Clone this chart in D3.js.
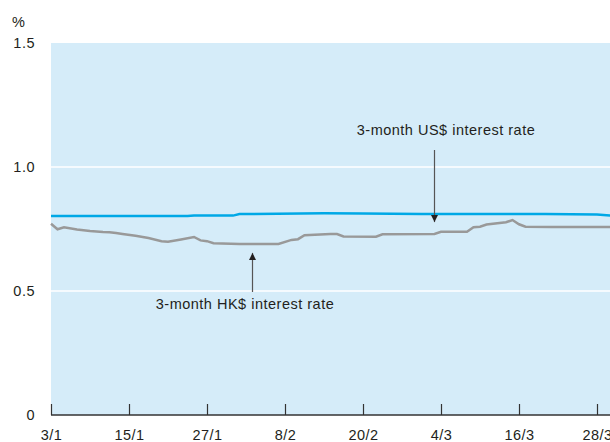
<!DOCTYPE html>
<html>
<head>
<meta charset="utf-8">
<script src="https://cdn.jsdelivr.net/npm/d3@7"></script>
<style>
  html, body { margin: 0; padding: 0; background: #fff; }
  svg text { font-family: "Liberation Sans", Arial, sans-serif; fill: #231f20; letter-spacing: 0.5px; }
</style>
</head>
<body>
<div id="chart"></div>
<script>
// Axis ticks
const xTickLabels = ['3/1', '15/1', '27/1', '8/2', '20/2', '4/3', '16/3', '28/3'];
const xTickDates = ['2006-01-03', '2006-01-15', '2006-01-27', '2006-02-08', '2006-02-20', '2006-03-04', '2006-03-16', '2006-03-28'];
const yTicks = [0, 0.5, 1.0, 1.5];

// 3-month US$ interest rate
const usDates = ['2006-01-03', '2006-01-24', '2006-01-25', '2006-01-31', '2006-02-01', '2006-02-14', '2006-02-20', '2006-03-01', '2006-03-20', '2006-03-28', '2006-03-31'];
const usValues = [0.802, 0.802, 0.804, 0.804, 0.810, 0.814, 0.813, 0.810, 0.810, 0.808, 0.802];

// 3-month HK$ interest rate
const hkDates = ['2006-01-03', '2006-01-04', '2006-01-05', '2006-01-07', '2006-01-09', '2006-01-11', '2006-01-12', '2006-01-13',
  '2006-01-14', '2006-01-16', '2006-01-18', '2006-01-20', '2006-01-21', '2006-01-23', '2006-01-25', '2006-01-26',
  '2006-01-27', '2006-01-28', '2006-02-01', '2006-02-07', '2006-02-09', '2006-02-10', '2006-02-11', '2006-02-15',
  '2006-02-16', '2006-02-17', '2006-02-22', '2006-02-23', '2006-03-03', '2006-03-04', '2006-03-08', '2006-03-09',
  '2006-03-10', '2006-03-11', '2006-03-14', '2006-03-15', '2006-03-16', '2006-03-17', '2006-03-21', '2006-03-31'];
const hkValues = [0.771, 0.749, 0.757, 0.748, 0.742, 0.738, 0.737, 0.734,
  0.730, 0.723, 0.714, 0.701, 0.699, 0.708, 0.718, 0.704,
  0.701, 0.693, 0.690, 0.690, 0.706, 0.709, 0.725, 0.730,
  0.730, 0.720, 0.719, 0.729, 0.730, 0.739, 0.739, 0.757,
  0.759, 0.768, 0.777, 0.786, 0.769, 0.759, 0.758, 0.758];

const width = 610;
const height = 442;
const fontSize = '14.5px';
const parse = d3.timeParse('%Y-%m-%d');

const svg = d3.select('#chart')
  .append('svg')
  .attr('width', width)
  .attr('height', height);

const x = d3.scaleTime()
  .domain([parse('2006-01-03'), parse('2006-03-31')])
  .range([51, 51 + 6.5 * 87]);

const y = d3.scaleLinear()
  .domain([0, 1.5])
  .range([415, 43]);

// Plot background
svg.append('rect')
  .attr('x', x.range()[0])
  .attr('y', y(1.5))
  .attr('width', width - x.range()[0])
  .attr('height', y(0) - y(1.5))
  .attr('fill', '#d5ecf9');

// White gridlines
svg.selectAll('.grid')
  .data(yTicks.filter(d => d > 0 && d < 1.5))
  .join('line')
  .attr('class', 'grid')
  .attr('x1', x.range()[0])
  .attr('x2', width)
  .attr('y1', d => y(d))
  .attr('y2', d => y(d))
  .attr('stroke', '#fff')
  .attr('stroke-width', 1.5);

// Y labels
svg.selectAll('.ylab')
  .data(yTicks)
  .join('text')
  .attr('class', 'ylab')
  .attr('x', 35)
  .attr('y', d => y(d))
  .attr('dy', '0.35em')
  .attr('text-anchor', 'end')
  .style('font-size', fontSize)
  .text(d => d === 0 ? '0' : d.toFixed(1));

svg.append('text')
  .attr('x', 12)
  .attr('y', 27)
  .style('font-size', fontSize)
  .text('%');

// X axis
const xAxis = d3.axisBottom(x)
  .tickValues(xTickDates.map(parse))
  .tickFormat((d, i) => xTickLabels[i])
  .tickSize(-11)
  .tickPadding(15);

const gx = svg.append('g')
  .attr('transform', `translate(0,${y(0)})`)
  .call(xAxis);
gx.select('.domain').remove();
gx.append('line')
  .attr('x1', x.range()[0])
  .attr('x2', width)
  .attr('stroke', '#333')
  .attr('stroke-width', 1.3);
gx.selectAll('.tick line').attr('stroke', '#333').attr('stroke-width', 1.2);
gx.selectAll('.tick text')
  .style('font-family', '"Liberation Sans", Arial, sans-serif')
  .style('font-size', fontSize)
  .attr('fill', '#231f20');

// Lines
const line = d3.line()
  .x(d => x(d[0]))
  .y(d => y(d[1]));

svg.append('path')
  .datum(hkDates.map((d, i) => [parse(d), hkValues[i]]))
  .attr('d', line)
  .attr('fill', 'none')
  .attr('stroke', '#999')
  .attr('stroke-width', 2.5);

svg.append('path')
  .datum(usDates.map((d, i) => [parse(d), usValues[i]]))
  .attr('d', line)
  .attr('fill', 'none')
  .attr('stroke', '#00a8e6')
  .attr('stroke-width', 2.5);

// Annotations
svg.append('defs').append('marker')
  .attr('id', 'arrow')
  .attr('viewBox', '0 0 10 10')
  .attr('refX', 10)
  .attr('refY', 5)
  .attr('markerWidth', 9)
  .attr('markerHeight', 7)
  .attr('markerUnits', 'userSpaceOnUse')
  .attr('orient', 'auto')
  .append('path')
  .attr('d', 'M0,0L10,5L0,10Z')
  .attr('fill', '#231f20');

const usX = x(parse('2006-03-03'));
svg.append('line')
  .attr('x1', usX).attr('x2', usX)
  .attr('y1', 150).attr('y2', y(0.81) + 8)
  .attr('stroke', '#555')
  .attr('stroke-width', 1.2)
  .attr('marker-end', 'url(#arrow)');
svg.append('text')
  .attr('x', 446)
  .attr('y', 135)
  .attr('text-anchor', 'middle')
  .style('font-size', fontSize)
  .text('3-month US$ interest rate');

const hkX = x(parse('2006-02-03'));
svg.append('line')
  .attr('x1', hkX).attr('x2', hkX)
  .attr('y1', 292).attr('y2', y(0.69) + 9)
  .attr('stroke', '#555')
  .attr('stroke-width', 1.2)
  .attr('marker-end', 'url(#arrow)');
svg.append('text')
  .attr('x', 245)
  .attr('y', 309)
  .attr('text-anchor', 'middle')
  .style('font-size', fontSize)
  .text('3-month HK$ interest rate');
</script>
</body>
</html>
